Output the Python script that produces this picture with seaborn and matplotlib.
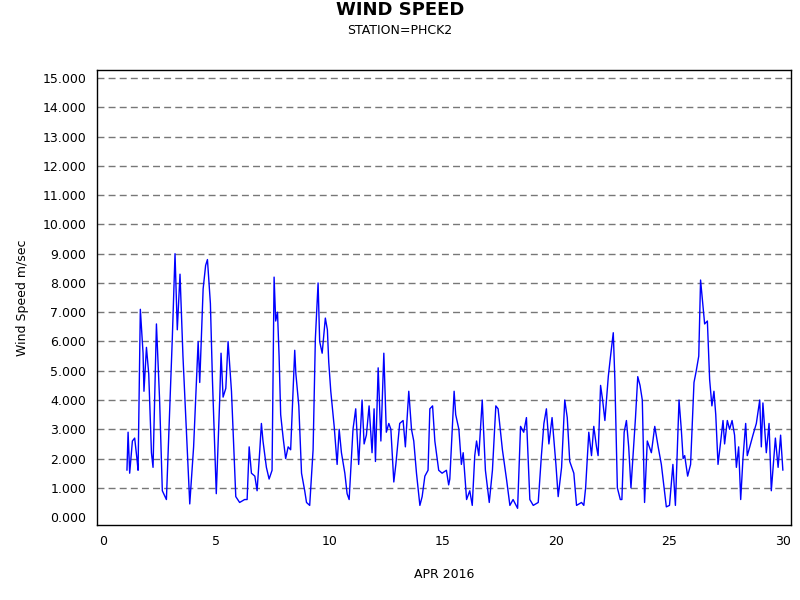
import matplotlib
matplotlib.use("Agg")
import matplotlib.pyplot as plt
import seaborn as sns
import pandas as pd
from matplotlib.ticker import FormatStrFormatter

days = [1.07,1.12,1.19,1.31,1.41,1.51,1.56,1.66,1.78,1.82,1.93,2.03,2.15,2.22,2.37,2.51,2.63,2.81,2.96,3.07,3.19,3.29,3.41,3.54,3.66,3.84,4.01,4.21,4.28,4.43,4.54,4.62,4.75,4.84,5.01,5.16,5.22,5.31,5.43,5.53,5.68,5.87,6.04,6.26,6.37,6.46,6.56,6.71,6.81,6.93,7.0,7.07,7.22,7.34,7.47,7.56,7.63,7.71,7.78,7.85,7.96,8.07,
        8.18,8.29,8.47,8.52,8.65,8.77,8.91,8.99,9.13,9.28,9.38,9.5,9.57,9.68,9.82,9.91,9.97,10.06,10.21,10.34,10.43,10.53,10.68,10.78,10.87,11.04,11.16,11.29,11.44,11.53,11.63,11.75,11.88,11.97,12.03,12.15,12.27,12.4,12.51,12.62,12.71,12.84,12.93,13.1,13.25,13.35,13.5,13.62,13.72,13.84,13.99,14.09,14.21,14.35,14.43,14.55,14.65,14.82,14.97,15.16,15.26,
        15.31,15.5,15.57,15.71,15.82,15.9,16.05,16.19,16.3,16.41,16.49,16.59,16.74,16.88,17.05,17.19,17.34,17.44,17.63,17.81,17.96,18.1,18.3,18.43,18.57,18.69,18.84,18.99,19.21,19.35,19.46,19.57,19.68,19.82,19.99,20.09,20.24,20.38,20.49,20.6,20.78,20.9,21.12,21.22,21.3,21.44,21.56,21.66,21.78,21.85,21.96,22.05,22.15,22.3,22.4,22.52,22.59,
        22.7,22.83,22.9,23.0,23.1,23.2,23.3,23.4,23.5,23.6,23.7,23.8,23.9,24.02,24.2,24.35,24.5,24.64,24.86,25.0,25.15,25.26,25.42,25.52,25.6,25.67,25.8,25.93,26.08,26.18,26.29,26.37,26.48,26.55,26.67,26.77,26.87,26.96,27.04,27.14,27.26,27.36,27.43,27.55,27.65,27.76,27.87,27.95,28.05,28.14,28.24,28.36,28.43,28.54,28.68,28.83,28.98,29.05,29.12,29.27,29.39,29.49,29.67,29.79,29.9,30.0]
speed = [1.6,2.9,1.5,2.6,2.7,2.0,1.6,7.1,5.6,4.3,5.8,4.9,2.2,1.7,6.6,4.0,0.9,0.6,3.8,6.1,9.0,6.4,8.3,5.5,3.5,0.45,2.4,6.0,4.6,7.8,8.6,8.8,7.3,4.7,0.8,4.0,5.6,4.1,4.4,6.0,4.3,0.7,0.5,0.6,0.6,2.4,1.5,1.4,0.9,2.3,3.2,2.6,1.7,1.3,1.6,8.2,6.7,7.0,5.5,3.5,2.7,2.0,
         2.4,2.3,5.7,4.9,3.8,1.5,0.9,0.5,0.4,2.3,6.1,8.0,6.0,5.6,6.8,6.4,5.3,4.3,3.1,1.8,3.0,2.2,1.5,0.8,0.6,3.0,3.7,1.8,4.0,2.5,2.8,3.8,2.2,3.7,1.9,5.1,2.6,5.6,2.9,3.2,3.0,1.2,1.8,3.2,3.3,2.4,4.3,3.0,2.6,1.5,0.4,0.7,1.4,1.6,3.7,3.8,2.6,1.6,1.5,1.6,1.1,
         1.3,4.3,3.5,3.0,1.8,2.2,0.6,0.9,0.4,2.1,2.6,2.1,4.0,1.6,0.5,1.6,3.8,3.7,2.3,1.3,0.4,0.6,0.3,3.1,2.9,3.4,0.6,0.4,0.5,2.1,3.2,3.7,2.5,3.4,1.8,0.7,1.7,4.0,3.4,1.9,1.5,0.4,0.5,0.4,1.0,2.9,2.1,3.1,2.4,2.1,4.5,4.0,3.3,4.8,5.5,6.3,4.7,
         1.0,0.6,0.6,2.9,3.3,2.4,1.0,2.2,3.4,4.8,4.5,4.0,0.5,2.6,2.2,3.1,2.4,1.8,0.35,0.4,1.8,0.4,4.0,3.0,2.0,2.1,1.4,1.8,4.6,5.0,5.5,8.1,7.2,6.6,6.7,4.7,3.8,4.3,3.5,1.8,2.6,3.3,2.5,3.3,3.0,3.3,2.8,1.7,2.4,0.6,2.0,3.2,2.1,2.4,2.8,3.2,4.0,2.4,3.9,2.2,3.2,0.9,2.7,1.7,2.8,1.6]
yticks = list(range(0, 16))
xticks = [0, 5, 10, 15, 20, 25, 30]

df = pd.DataFrame({"day": days, "speed": speed})

sns.set_style("white")
plt.rcParams['font.family'] = ['DejaVu Sans']
plt.rcParams['text.color'] = 'black'
plt.rcParams['axes.labelcolor'] = 'black'
plt.rcParams['xtick.color'] = 'black'
plt.rcParams['ytick.color'] = 'black'
fig = plt.figure(figsize=(8, 6), dpi=100)
ax = fig.add_axes([0.121, 0.125, 0.8675, 0.758])
sns.lineplot(data=df, x="day", y="speed", ax=ax, color="#0000ff", linewidth=1)
ax.set_xlim(-0.26, 30.35)
ax.set_ylim(-0.27, 15.27)
ax.set_yticks(yticks)
ax.set_xticks(xticks)
ax.yaxis.set_major_formatter(FormatStrFormatter('%.3f'))
for y in yticks[1:]:
    ax.axhline(y, color="#777777", linestyle=(0, (5, 3)), linewidth=1, zorder=0)
for s in ax.spines.values():
    s.set_color("black"); s.set_linewidth(1)
ax.tick_params(axis="both", labelsize=9, length=4, direction="out", color="black")
ax.set_xlabel("APR 2016", fontsize=9, labelpad=14)
ax.set_ylabel("Wind Speed m/sec", fontsize=9, labelpad=10)
fig.text(0.5, 0.983, "WIND SPEED", ha="center", va="center", fontsize=13, fontweight="bold")
fig.text(0.5, 0.949, "STATION=PHCK2", ha="center", va="center", fontsize=9)
fig.savefig("out.png", dpi=100)
